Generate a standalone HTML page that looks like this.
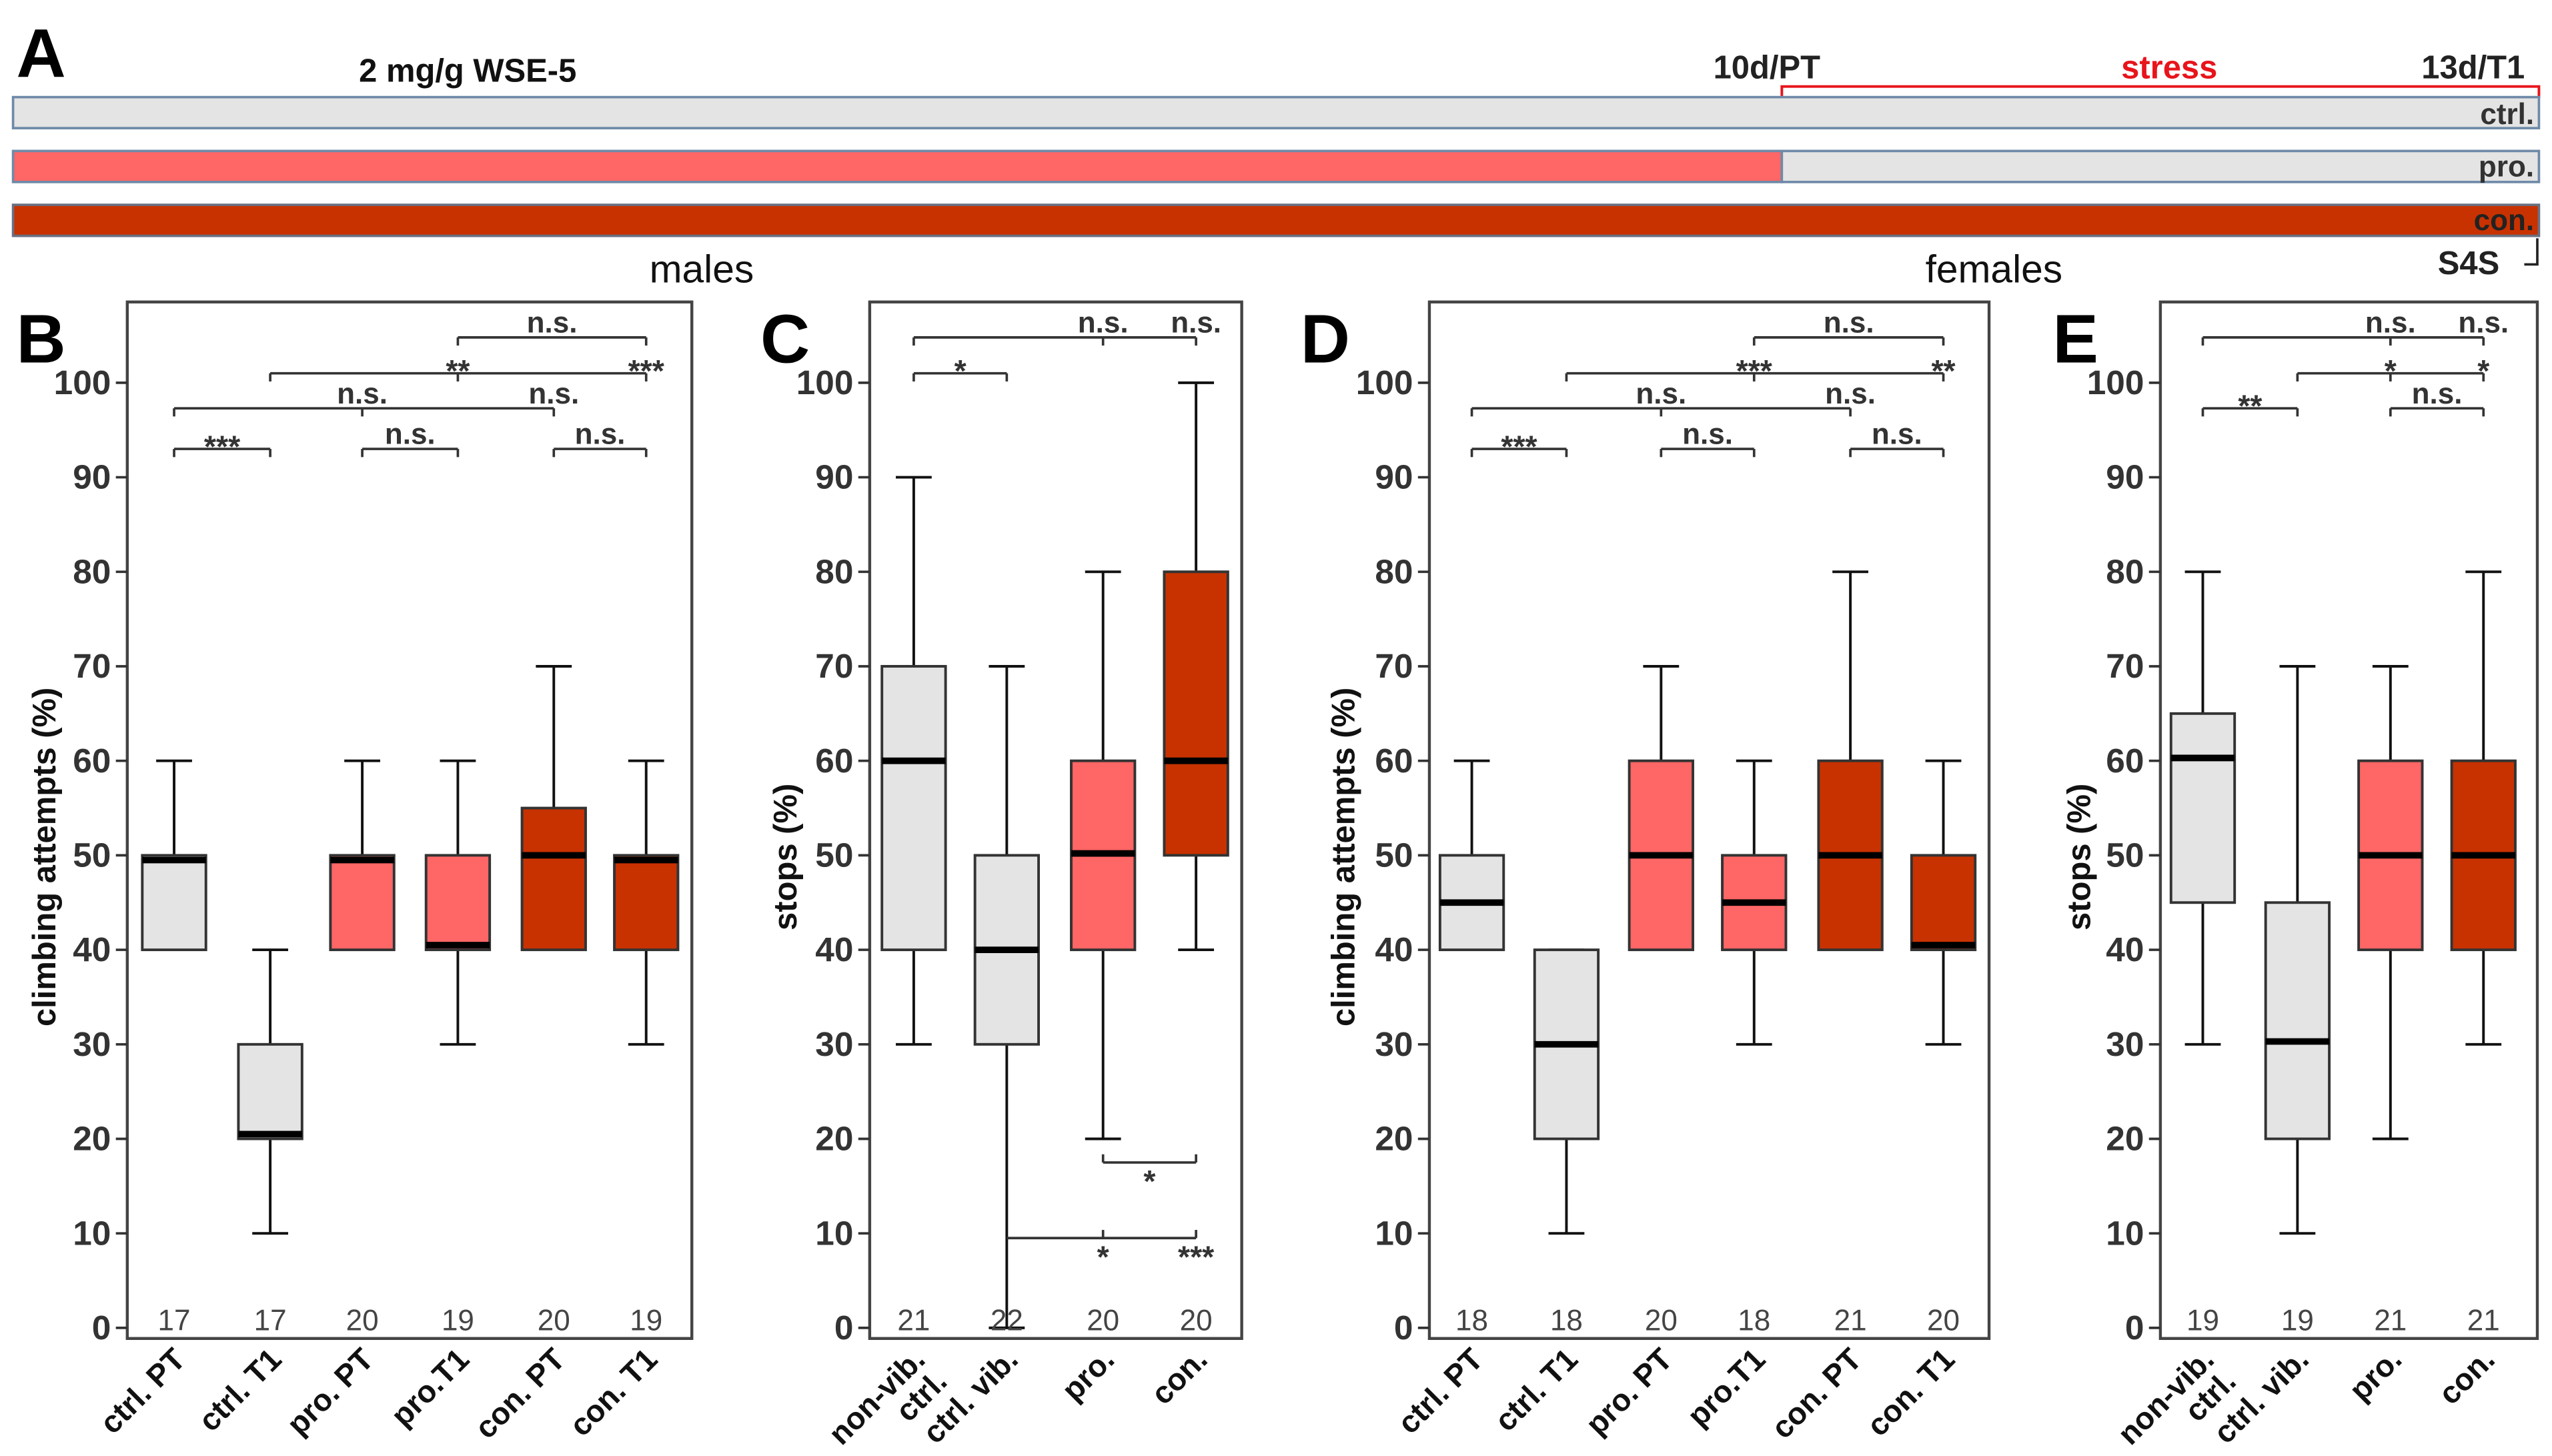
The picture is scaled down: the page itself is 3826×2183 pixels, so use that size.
<!DOCTYPE html>
<html><head><meta charset="utf-8">
<style>
html,body{margin:0;padding:0;background:#fff;}
svg{display:block;font-family:"Liberation Sans",sans-serif;}
</style></head>
<body>
<svg id="fig" width="3826" height="2183" viewBox="0 0 1564 892" preserveAspectRatio="none" xmlns="http://www.w3.org/2000/svg">
<g id="panelA">
  <text x="10" y="47" font-size="42" font-weight="bold">A</text>
  <text x="220" y="50" font-size="20" font-weight="bold" fill="#111">2 mg/g WSE-5</text>
  <text x="1050" y="48" font-size="20" font-weight="bold" fill="#222">10d/PT</text>
  <text x="1300" y="48" font-size="20" font-weight="bold" fill="#e8141c">stress</text>
  <text x="1484" y="48" font-size="20" font-weight="bold" fill="#222">13d/T1</text>
  <path d="M1092,60 V53 H1556 V60" fill="none" stroke="#e8141c" stroke-width="1.6"/>
  <rect x="8" y="59.5" width="1548" height="19" fill="#e4e4e4" stroke="#6f8aa8" stroke-width="1.5"/>
  <text x="1553" y="76" text-anchor="end" font-size="18" font-weight="bold" fill="#333">ctrl.</text>
  <rect x="8" y="92.5" width="1084" height="19" fill="#ff6666" stroke="#6f8aa8" stroke-width="1.5"/>
  <rect x="1092" y="92.5" width="464" height="19" fill="#e4e4e4" stroke="#6f8aa8" stroke-width="1.5"/>
  <text x="1553" y="108" text-anchor="end" font-size="18" font-weight="bold" fill="#333">pro.</text>
  <rect x="8" y="125.5" width="1548" height="19" fill="#c83200" stroke="#6a6f80" stroke-width="1.5"/>
  <text x="1553" y="141" text-anchor="end" font-size="18" font-weight="bold" fill="#222">con.</text>
  <text x="1494" y="168" font-size="20" font-weight="bold" fill="#222">S4S</text>
  <path d="M1555,146 V162 H1547" fill="none" stroke="#222" stroke-width="1.5"/>
  <text x="430" y="173" text-anchor="middle" font-size="24" fill="#111">males</text>
  <text x="1222" y="173" text-anchor="middle" font-size="24" fill="#111">females</text>
</g>
</svg>
<script>
// ---------- data ----------
const ticks = [0,10,20,30,40,50,60,70,80,90,100];
const catsB = ["ctrl. PT","ctrl. T1","pro. PT","pro.T1","con. PT","con. T1"];
const minB = [40,10,40,30,40,30];
const q1B  = [40,20,40,40,40,40];
const medB = [49.5,20.5,49.5,40.5,50,49.5];
const q3B  = [50,30,50,50,55,50];
const maxB = [60,40,60,60,70,60];
const nB   = [17,17,20,19,20,19];

const catsC = [["non-vib.","ctrl."],["ctrl. vib."],["pro."],["con."]];
const minC = [30,0,20,40];
const q1C  = [40,30,40,50];
const medC = [60,40,50.2,60];
const q3C  = [70,50,60,80];
const maxC = [90,70,80,100];
const nC   = [21,22,20,20];

const catsD = ["ctrl. PT","ctrl. T1","pro. PT","pro.T1","con. PT","con. T1"];
const minD = [40,10,40,30,40,30];
const q1D  = [40,20,40,40,40,40];
const medD = [45,30,50,45,50,40.5];
const q3D  = [50,40,60,50,60,50];
const maxD = [60,40,70,60,80,60];
const nD   = [18,18,20,18,21,20];

const catsE = [["non-vib.","ctrl."],["ctrl. vib."],["pro."],["con."]];
const minE = [30,10,20,30];
const q1E  = [45,20,40,40];
const medE = [60.3,30.3,50,50];
const q3E  = [65,45,60,60];
const maxE = [80,70,70,80];
const nE   = [19,19,21,21];

const colG="#e4e4e4", colP="#ff6666", colC="#c83200";
const svg = document.getElementById('fig');
const NS = "http://www.w3.org/2000/svg";
function yS(v){ return 813.5 - v*5.79; }
function mk(tag, attrs, parent){
  const e=document.createElementNS(NS,tag);
  for(const k in attrs) e.setAttribute(k,attrs[k]);
  parent.appendChild(e); return e;
}

function panel(cfg){
  const g=mk('g',{},svg);
  
  
  const L=mk('text',{x:cfg.letterX,y:222,'font-size':42,'font-weight':'bold'},g);
  L.textContent=cfg.letter;
  
  
  const fr=mk('rect',{x:cfg.fx1,y:185,width:cfg.fx2-cfg.fx1,height:635,fill:'none',stroke:'#444','stroke-width':1.8},g);
  
  
  ticks.forEach(t=>{
    const tk=mk('line',{x1:cfg.fx1-7,x2:cfg.fx1,y1:yS(t),y2:yS(t),stroke:'#333','stroke-width':1.5},g);
    
    
    const tl=mk('text',{x:cfg.fx1-10,y:yS(t)+7,'text-anchor':'end','font-size':21,'font-weight':'bold',fill:'#333'},g);
    tl.textContent=t;
    
    
  });
  const yt=mk('text',{transform:`translate(${cfg.titleX},${cfg.titleY}) rotate(-90)`,'text-anchor':'middle','font-size':20,'font-weight':'bold',fill:'#111'},g);
  yt.textContent=cfg.title;
  
  
  cfg.xs.forEach((cx,i)=>{
    const bg=mk('g',{},g);
    
    
    const w=39, cap=11;
    mk('line',{x1:cx,x2:cx,y1:yS(cfg.max[i]),y2:yS(cfg.q3[i]),stroke:'#111','stroke-width':1.6},bg);
    mk('line',{x1:cx,x2:cx,y1:yS(cfg.q1[i]),y2:yS(cfg.min[i]),stroke:'#111','stroke-width':1.6},bg);
    mk('line',{x1:cx-cap,x2:cx+cap,y1:yS(cfg.max[i]),y2:yS(cfg.max[i]),stroke:'#111','stroke-width':1.6},bg);
    mk('line',{x1:cx-cap,x2:cx+cap,y1:yS(cfg.min[i]),y2:yS(cfg.min[i]),stroke:'#111','stroke-width':1.6},bg);
    mk('rect',{x:cx-w/2,y:yS(cfg.q3[i]),width:w,height:yS(cfg.q1[i])-yS(cfg.q3[i]),fill:cfg.cols[i],stroke:'#333','stroke-width':1.6},bg);
    mk('line',{x1:cx-w/2,x2:cx+w/2,y1:yS(cfg.med[i]),y2:yS(cfg.med[i]),stroke:'#000','stroke-width':4},bg);
    const nt=mk('text',{x:cx,y:815,'text-anchor':'middle','font-size':18,fill:'#444'},g);
    nt.textContent=cfg.n[i];
    
    
    const lab=cfg.cats[i];
    const lines=Array.isArray(lab)?lab:[lab];
    const xt=mk('text',{transform:`translate(${cx+8},${834}) rotate(-45)`,'text-anchor':'end','font-size':19,'font-weight':'bold',fill:'#111'},g);
    lines.forEach((ln,k)=>{
      const ts=mk('tspan',{x:0,dy:k===0?0:19},xt);
      ts.textContent=ln;
    });
    
    
  });
  cfg.brackets.forEach(b=>{
    const bg=mk('g',{},g);
    
    
    const y=yS(b.v), d=b.up?-5:5;
    const xa=cfg.xs[b.a], xb=cfg.xs[b.b];
    mk('line',{x1:xa,x2:xb,y1:y,y2:y,stroke:'#333','stroke-width':1.5},bg);
    b.t.forEach(ti=>mk('line',{x1:cfg.xs[ti],x2:cfg.xs[ti],y1:y,y2:y+d,stroke:'#333','stroke-width':1.5},bg));
    b.labels.forEach(l=>{
      const lx = l.p!==undefined ? l.p : (cfg.xs[l.a]+cfg.xs[l.b])/2;
      const isStar=l.s.indexOf('*')>=0;
      const ly = b.up ? y+(isStar?18:18) : y-(isStar?-5:3);
      const tx=mk('text',{x:lx,y:ly,'text-anchor':'middle','font-size':isStar?19:18,'font-weight':'bold',fill:'#333'},bg);
      tx.textContent=l.s;
    });
  });
}

const xsB=[106.7,165.6,222,280.6,339.4,396];
panel({letter:'B',letterX:10,fx1:78,fx2:424,titleX:34,titleY:525,title:'climbing attempts (%)',
  xs:xsB,cats:catsB,min:minB,q1:q1B,med:medB,q3:q3B,max:maxB,n:nB,cols:[colG,colG,colP,colP,colC,colC],
  brackets:[
    {v:93,a:0,b:1,t:[0,1],labels:[{a:0,b:1,s:'***'}]},
    {v:93,a:2,b:3,t:[2,3],labels:[{a:2,b:3,s:'n.s.'}]},
    {v:93,a:4,b:5,t:[4,5],labels:[{a:4,b:5,s:'n.s.'}]},
    {v:97.3,a:0,b:4,t:[0,2,4],labels:[{p:xsB[2],s:'n.s.'},{p:xsB[4],s:'n.s.'}]},
    {v:101,a:1,b:5,t:[1,3,5],labels:[{p:xsB[3],s:'**'},{p:xsB[5],s:'***'}]},
    {v:104.8,a:3,b:5,t:[3,5],labels:[{a:3,b:5,s:'n.s.'}]}
  ]});
const xsC=[560,617,676,733];
panel({letter:'C',letterX:466,fx1:533,fx2:761,titleX:488,titleY:525,title:'stops (%)',
  xs:xsC,cats:catsC,min:minC,q1:q1C,med:medC,q3:q3C,max:maxC,n:nC,cols:[colG,colG,colP,colC],
  brackets:[
    {v:101,a:0,b:1,t:[0,1],labels:[{a:0,b:1,s:'*'}]},
    {v:104.8,a:0,b:3,t:[0,2,3],labels:[{p:xsC[2],s:'n.s.'},{p:xsC[3],s:'n.s.'}]},
    {v:17.5,a:2,b:3,t:[2,3],up:true,labels:[{a:2,b:3,s:'*'}]},
    {v:9.5,a:1,b:3,t:[2,3],up:true,labels:[{p:xsC[2],s:'*'},{p:xsC[3],s:'***'}]}
  ]});
const xsD=[902,960,1018,1075,1134,1191];
panel({letter:'D',letterX:797,fx1:876,fx2:1219,titleX:830,titleY:525,title:'climbing attempts (%)',
  xs:xsD,cats:catsD,min:minD,q1:q1D,med:medD,q3:q3D,max:maxD,n:nD,cols:[colG,colG,colP,colP,colC,colC],
  brackets:[
    {v:93,a:0,b:1,t:[0,1],labels:[{a:0,b:1,s:'***'}]},
    {v:93,a:2,b:3,t:[2,3],labels:[{a:2,b:3,s:'n.s.'}]},
    {v:93,a:4,b:5,t:[4,5],labels:[{a:4,b:5,s:'n.s.'}]},
    {v:97.3,a:0,b:4,t:[0,2,4],labels:[{p:xsD[2],s:'n.s.'},{p:xsD[4],s:'n.s.'}]},
    {v:101,a:1,b:5,t:[1,3,5],labels:[{p:xsD[3],s:'***'},{p:xsD[5],s:'**'}]},
    {v:104.8,a:3,b:5,t:[3,5],labels:[{a:3,b:5,s:'n.s.'}]}
  ]});
const xsE=[1350,1408,1465,1522];
panel({letter:'E',letterX:1258,fx1:1324,fx2:1555,titleX:1281,titleY:525,title:'stops (%)',
  xs:xsE,cats:catsE,min:minE,q1:q1E,med:medE,q3:q3E,max:maxE,n:nE,cols:[colG,colG,colP,colC],
  brackets:[
    {v:97.3,a:0,b:1,t:[0,1],labels:[{a:0,b:1,s:'**'}]},
    {v:97.3,a:2,b:3,t:[2,3],labels:[{a:2,b:3,s:'n.s.'}]},
    {v:101,a:1,b:3,t:[1,2,3],labels:[{p:xsE[2],s:'*'},{p:xsE[3],s:'*'}]},
    {v:104.8,a:0,b:3,t:[0,2,3],labels:[{p:xsE[2],s:'n.s.'},{p:xsE[3],s:'n.s.'}]}
  ]});
</script>
</body></html>
